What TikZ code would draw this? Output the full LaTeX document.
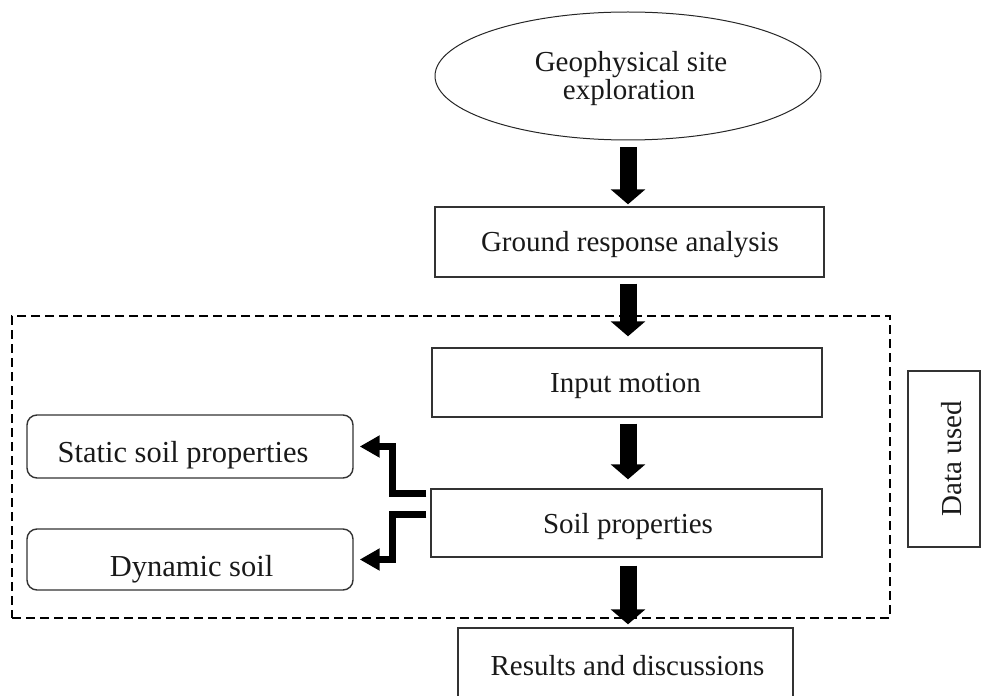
\documentclass[tikz,border=0pt]{standalone}
\usepackage{fontspec}
\setmainfont{Liberation Serif}
\usetikzlibrary{shapes.geometric,arrows.meta}
\begin{document}
\begin{tikzpicture}[x=1pt,y=-1pt,
  txt/.style={font=\fontsize{29}{31}\selectfont, text=black!90, inner sep=0pt, anchor=base},
  txtl/.style={txt, font=\fontsize{30.5}{32}\selectfont},
  box/.style={draw=black!80, line width=1.4pt, rectangle, inner sep=0pt},
  rbox/.style={box, rounded corners=10pt},
  bigarrow/.style={line width=17pt, -{Triangle[width=34pt,length=15pt]}},
  elbow/.style={line width=7pt, -{Triangle[width=21pt,length=20pt]}, line join=miter},
]
\useasboundingbox (0,0) rectangle (981,695);
\clip (0,0) rectangle (981,695);

% shapes
\node[ellipse, draw=black!85, line width=1pt, minimum width=386pt, minimum height=128pt, inner sep=0pt] (geo) at (628,76) {};
\node[box, minimum width=389pt, minimum height=70pt] (ground) at (629.5,242) {};
\node[draw, dashed, line width=1.8pt, dash pattern=on 9pt off 5pt, minimum width=878pt, minimum height=302pt, inner sep=0pt] (group) at (451,467) {};
\node[box, minimum width=390pt, minimum height=69pt] (input) at (627,382.5) {};
\node[box, minimum width=391pt, minimum height=68pt] (soil) at (626.5,523) {};
\node[box, minimum width=335pt, minimum height=74pt] (results) at (625.5,665) {};
\node[rbox, minimum width=326pt, minimum height=63pt] (static) at (190,446.5) {};
\node[rbox, minimum width=326pt, minimum height=61pt] (dynamic) at (190,559.5) {};
\node[box, minimum width=72pt, minimum height=176pt] (data) at (944,459) {};

% texts
\node[txt] (geoA) at (631,72) {Geophysical site};
\node[txt] (geoB) at (629,100) {exploration};
\node[txt] (groundT) at (630,251) {Ground response analysis};
\node[txt] (inputT) at (625.5,392) {Input motion};
\node[txt] (soilT) at (628,533) {Soil properties};
\node[txt] (resultsT) at (627.5,675) {Results and discussions};
\node[txtl] (staticT) at (183,462) {Static soil properties};
\node[txtl] (dynamicT) at (191.5,576) {Dynamic soil};
\node[txt, rotate=90] (dataT) at (961,458.5) {Data used};

% connectors
\draw[bigarrow, shorten <=7pt, shorten >=2pt] (geo.south) -- (geo.south |- ground.north);
\draw[bigarrow, shorten <=6pt, shorten >=11pt] (ground.south -| geo.south) -- (input.north -| geo.south);
\draw[bigarrow, shorten <=6pt, shorten >=9pt] (input.south -| geo.south) -- (soil.north -| geo.south);
\draw[bigarrow, shorten <=8pt, shorten >=3pt] (soil.south -| geo.south) -- (results.north -| geo.south);

\draw[elbow, shorten <=4pt, shorten >=6pt] ([yshift=30pt]soil.west) -- ++(-37.5,0) |- (static.east);
\draw[elbow, shorten <=4pt, shorten >=6pt] ([yshift=9pt]soil.west) -- ++(-37.5,0) |- (dynamic.east);
\end{tikzpicture}
\end{document}
